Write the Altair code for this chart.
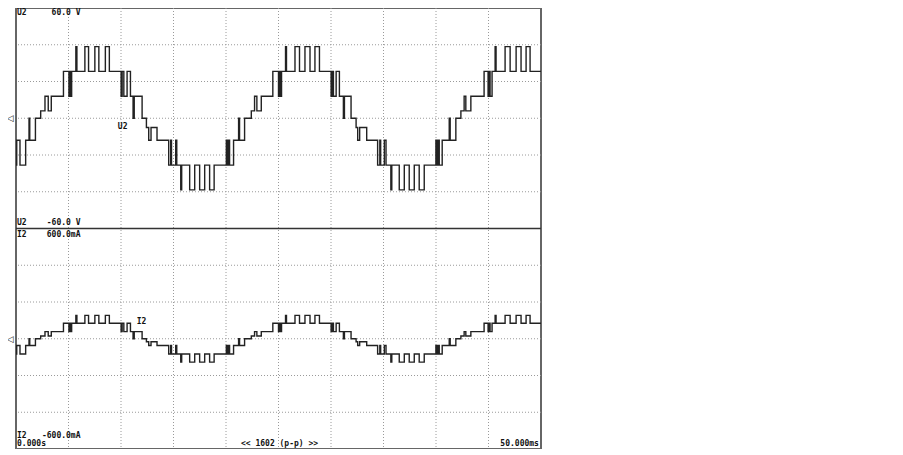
import altair as alt
import pandas as pd

# ---- data ----
# breakpoints of the stepped traces (ms) and the level index that starts there
T_MS = [0.00, 0.07, 0.38, 0.92, 1.24, 1.31, 1.85, 2.35, 2.76, 3.07,
        3.36, 4.52, 5.04, 5.11, 5.23, 5.30, 5.70, 5.80, 6.56, 6.91,
        7.51, 7.89, 8.51, 8.89, 10.01, 10.11, 10.27, 10.58, 10.90, 11.15,
        11.26, 12.01, 12.42, 12.64, 12.86, 13.43, 14.54, 14.73, 14.81, 15.21,
        15.31, 15.69, 15.78, 16.54, 17.02, 17.49, 17.97, 18.44, 18.87,
        20.03, 20.15, 20.22, 20.34, 20.72, 21.20, 21.29, 21.77, 22.41, 22.72,
        22.94, 23.36, 24.46, 25.00, 25.08, 25.19, 25.29, 25.67, 25.76, 26.57,
        27.00, 27.52, 28.00, 28.47, 28.90, 30.01, 30.11, 30.23, 30.49, 30.80,
        31.18, 31.28, 31.91, 32.39, 32.54, 32.73, 33.40, 34.44, 34.65, 34.73,
        35.08, 35.24, 35.70, 35.79, 36.50, 36.98, 37.45, 37.93, 38.40, 38.88,
        39.99, 40.12, 40.18, 40.31, 40.59, 41.26, 41.35, 41.89, 42.37, 42.68,
        42.84, 43.32, 44.58, 44.96, 45.04, 45.15, 45.34, 45.63, 45.72, 46.58,
        47.06, 47.63, 48.10, 48.58, 48.96]
LEVEL = [1, 2, 1, 2, 4, 2, 4, 5, 6, 5,
         6, 7, 6, 7, 6, 7, 8, 7, 8, 7,
         8, 7, 8, 7, 6, 7, 6, 7, 6, 4,
         6, 4, 3, 2, 3, 2, 1, 2, 1, 2,
         1, 0, 1, 0, 1, 0, 1, 0, 1,
         2, 1, 2, 1, 2, 4, 2, 4, 5, 6,
         5, 6, 7, 6, 7, 6, 7, 8, 7, 8,
         7, 8, 7, 8, 7, 6, 7, 6, 7, 6,
         4, 6, 4, 3, 2, 3, 2, 1, 2, 1,
         2, 1, 0, 1, 0, 1, 0, 1, 0, 1,
         2, 1, 2, 1, 2, 4, 2, 4, 5, 6,
         5, 6, 7, 6, 7, 6, 7, 8, 7, 8,
         7, 8, 7, 8, 7]
T_END = 50.0
V_LEVELS = [-39, -25.5, -12, -5, 0, 4, 12, 25.5, 39]        # U2 (V)
I_LEVELS = [-127, -83, -37, -16, 0, 15, 39, 84, 127]        # I2 (mA)

X_GRID_MS = [5, 10, 15, 20, 25, 30, 35, 40, 45]
V_GRID = [-40, -20, 0, 20, 40]
I_GRID = [-400, -200, 0, 200, 400]

W, H = 525, 441
FONT = "DejaVu Sans Mono"

trace = pd.DataFrame({"t": T_MS + [T_END], "lvl": LEVEL + [LEVEL[-1]]})
trace["V"] = [V_LEVELS[i] for i in trace["lvl"]]
trace["mA"] = [I_LEVELS[i] for i in trace["lvl"]]

xs = alt.Scale(domain=[0, 50], nice=False, zero=False)
ys_v = alt.Scale(domain=[-180, 60], nice=False, zero=False)   # top half holds -60..60 V
ys_i = alt.Scale(domain=[-600, 1800], nice=False, zero=False)  # bottom half holds -600..600 mA

X = alt.X("t:Q", scale=xs, axis=None)
YV = alt.Y("V:Q", scale=ys_v, axis=None)
YI = alt.Y("mA:Q", scale=ys_i, axis=None)

grid_style = dict(color="#9a9a9a", strokeDash=[1, 2], strokeWidth=1)

vgrid = alt.Chart(pd.DataFrame({"t": X_GRID_MS})).mark_rule(**grid_style).encode(x=X)
hgrid_v = alt.Chart(pd.DataFrame({"V": V_GRID})).mark_rule(**grid_style).encode(y=YV)
hgrid_i = alt.Chart(pd.DataFrame({"mA": I_GRID})).mark_rule(**grid_style).encode(y=YI)
divider = alt.Chart(pd.DataFrame({"V": [-60]})).mark_rule(color="#333", strokeWidth=1.5).encode(y=YV)

line_style = dict(interpolate="step-after", color="#222", strokeWidth=1.4)
v_line = alt.Chart(trace).mark_line(**line_style).encode(x=X, y=YV)
i_line = alt.Chart(trace).mark_line(**line_style).encode(x=X, y=YI)

txt = dict(font=FONT, fontSize=8, fontWeight="bold", color="#111")


def label(df, y, **kw):
    style = dict(txt)
    style.update(kw)
    return alt.Chart(df).mark_text(**style).encode(x=X, y=y, text="s:N")


labels = [
    label(pd.DataFrame({"t": [0.1], "V": [60], "s": ["U2"]}), YV, align="left", baseline="top", dy=1),
    label(pd.DataFrame({"t": [6.14], "V": [60], "s": ["60.0 V"]}), YV, align="right", baseline="top", dy=1),
    label(pd.DataFrame({"t": [0.1], "V": [-60], "s": ["U2"]}), YV, align="left", baseline="bottom", dy=-2),
    label(pd.DataFrame({"t": [6.14], "V": [-60], "s": ["-60.0 V"]}), YV, align="right", baseline="bottom", dy=-2),
    label(pd.DataFrame({"t": [0.1], "mA": [600], "s": ["I2"]}), YI, align="left", baseline="top", dy=2),
    label(pd.DataFrame({"t": [6.14], "mA": [600], "s": ["600.0mA"]}), YI, align="right", baseline="top", dy=2),
    label(pd.DataFrame({"t": [0.1], "mA": [-600], "s": ["I2"]}), YI, align="left", baseline="bottom", dy=-9),
    label(pd.DataFrame({"t": [6.14], "mA": [-600], "s": ["-600.0mA"]}), YI, align="right", baseline="bottom", dy=-9),
    label(pd.DataFrame({"t": [0.1], "mA": [-600], "s": ["0.000s"]}), YI, align="left", baseline="bottom", dy=-1),
    label(pd.DataFrame({"t": [25.1], "mA": [-600], "s": ["<< 1602 (p-p) >>"]}), YI, align="center", baseline="bottom", dy=-1),
    label(pd.DataFrame({"t": [49.8], "mA": [-600], "s": ["50.000ms"]}), YI, align="right", baseline="bottom", dy=-1),
    label(pd.DataFrame({"t": [9.7], "V": [-2.5], "s": ["U2"]}), YV, align="left", baseline="top"),
    label(pd.DataFrame({"t": [11.5], "mA": [112], "s": ["I2"]}), YI, align="left", baseline="top"),
    label(pd.DataFrame({"t": [-0.55], "V": [0], "s": ["◁"]}), YV, align="center", baseline="middle",
          font="DejaVu Sans", fontSize=9, fontWeight="normal"),
    label(pd.DataFrame({"t": [-0.55], "mA": [0], "s": ["◁"]}), YI, align="center", baseline="middle",
          font="DejaVu Sans", fontSize=9, fontWeight="normal"),
]

chart = alt.layer(vgrid, hgrid_v, hgrid_i, v_line, i_line, divider, *labels).resolve_scale(
    y="independent"
).properties(
    width=W,
    height=H,
    autosize=alt.AutoSizeParams(type="none"),
    padding={"left": 8, "top": 0, "right": 5, "bottom": 0},
    background="white",
).configure_view(stroke="#666", strokeWidth=2)

chart.save("out.html", embed_options={"renderer": "svg", "actions": False})
